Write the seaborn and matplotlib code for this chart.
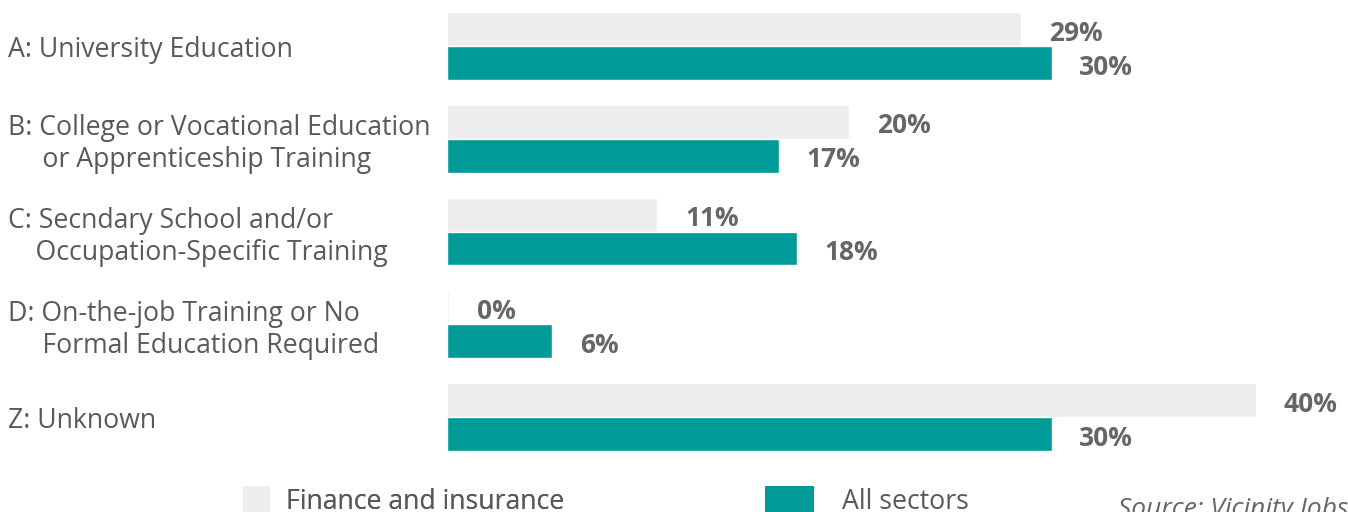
import matplotlib
matplotlib.use("Agg")
import matplotlib.pyplot as plt
import seaborn as sns
import pandas as pd
from matplotlib.patches import Patch

categories = [
    "A: University Education",
    "B: College or Vocational Education\n     or Apprenticeship Training",
    "C: Secndary School and/or\n    Occupation-Specific Training",
    "D: On-the-job Training or No\n     Formal Education Required",
    "Z: Unknown",
]
series_names = ["Finance and insurance", "All sectors"]
finance_values = [28.4, 19.9, 10.4, 0.1, 40.0]
all_values = [29.9, 16.4, 17.3, 5.2, 29.9]
finance_labels = ["29%", "20%", "11%", "0%", "40%"]
all_labels = ["30%", "17%", "18%", "6%", "30%"]
colors = {"Finance and insurance": "#EDEDED", "All sectors": "#009B98"}
source_text = "Source: Vicinity Jobs"

sns.set_theme(style="white")
plt.rcParams["font.family"] = ["Open Sans", "DejaVu Sans"]

df = pd.DataFrame({
    "category": categories * 2,
    "series": [series_names[0]] * len(categories) + [series_names[1]] * len(categories),
    "value": finance_values + all_values,
})

fig = plt.figure(figsize=(13.48, 5.12), dpi=100)
ax = fig.add_axes([447 / 1348, 0, 1 - 447 / 1348, 1])
sns.barplot(data=df, y="category", x="value", hue="series", order=categories,
            hue_order=series_names, palette=colors, width=0.73, orient="h",
            legend=False, ax=ax, saturation=1)

ax.set_xlim(0, (1348 - 447) / 20.22)
ax.set_ylim(5.024, -0.496)
ax.set_xlabel("")
ax.set_ylabel("")
ax.set_xticks([])
for s in ax.spines.values():
    s.set_visible(False)

ax.set_yticks(range(len(categories)))
ax.set_yticklabels(categories, ha="left", fontsize=19.2, color="#595959")
ax.tick_params(axis="y", length=0, pad=(447 - 8) / 100 * 72)

for cont, labs in zip(ax.containers, [finance_labels, all_labels]):
    anns = ax.bar_label(cont, labels=labs, padding=20, fontsize=19,
                        fontweight="bold", color="#666666")
    for a in anns:
        a.xyann = (20, -3)

leg1 = fig.legend(handles=[Patch(facecolor=colors[series_names[0]], edgecolor="none")],
                  labels=[series_names[0]], loc="upper left",
                  bbox_to_anchor=(243 / 1348, 1 - 486 / 512), frameon=False,
                  fontsize=19.2, borderpad=0, borderaxespad=0, handlelength=1.0,
                  handleheight=1.3, handletextpad=0.6, labelcolor="#595959")
leg2 = fig.legend(handles=[Patch(facecolor=colors[series_names[1]], edgecolor="none")],
                  labels=[series_names[1]], loc="upper left",
                  bbox_to_anchor=(765 / 1348, 1 - 486 / 512), frameon=False,
                  fontsize=19.2, borderpad=0, borderaxespad=0, handlelength=1.82,
                  handleheight=1.3, handletextpad=1.05, labelcolor="#595959")
fig.add_artist(leg1)
fig.text(1.0, 1 - 497 / 512, source_text, ha="right", va="top", fontsize=19,
         style="italic", color="#666666")

fig.savefig("out.png", dpi=100)
